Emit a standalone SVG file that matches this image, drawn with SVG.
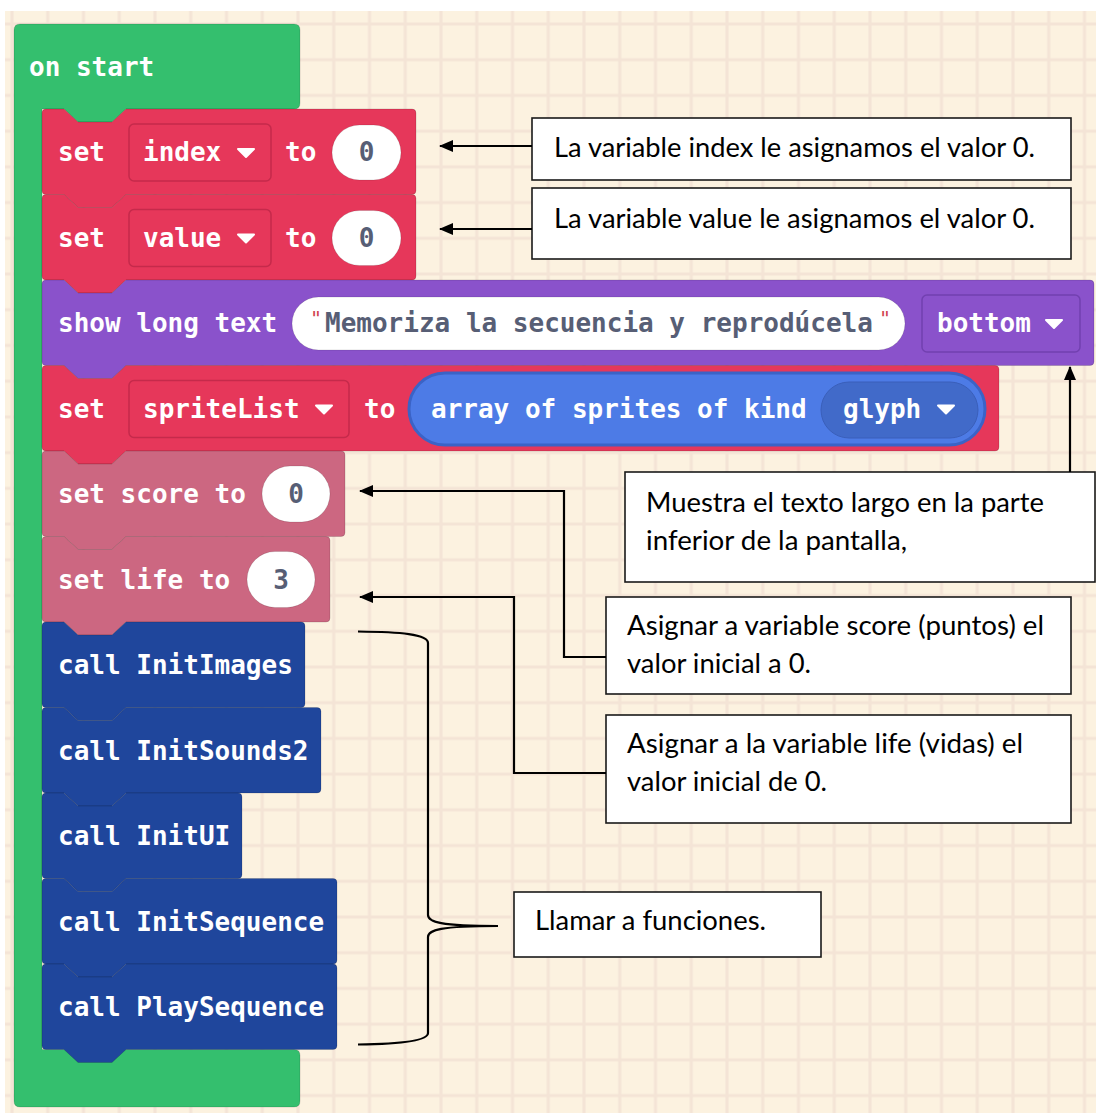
<svg xmlns="http://www.w3.org/2000/svg" width="1096" height="1115" viewBox="0 0 1096 1115">
  <defs>
    <pattern id="grid" x="12" y="24" width="35.75" height="35.72" patternUnits="userSpaceOnUse">
      <rect width="35.75" height="35.72" fill="#fcf2e0"/>
      <path d="M0,0 V35.72 M35.75,0 V35.72 M0,0 H35.75 M0,35.72 H35.75" stroke="#f4e4d6" stroke-width="3"/>
    </pattern>
    <marker id="arrow" markerUnits="userSpaceOnUse" markerWidth="14" markerHeight="12" refX="13" refY="6" orient="auto">
      <path d="M0,0 L14,6 L0,12 Z" fill="#000"/>
    </marker>
    <style>
      .blk { stroke: rgba(0,0,0,0.14); stroke-width: 1; stroke-linejoin: round; }
      .hat { fill: #34bf6e; }
      .var { fill: #e6375a; }
      .game { fill: #8a52cb; }
      .info { fill: #cc6781; }
      .fn { fill: #1f469c; }
      .lbl { font-family: "DejaVu Sans Mono", "Liberation Mono", monospace; font-weight: bold; font-size: 26px; fill: #ffffff; }
      .num { font-family: "DejaVu Sans Mono", "Liberation Mono", monospace; font-weight: bold; font-size: 26px; fill: #575e75; text-anchor: middle; }
      .str { font-family: "DejaVu Sans Mono", "Liberation Mono", monospace; font-weight: bold; font-size: 26px; fill: #575e75; }
      .quote { font-family: "DejaVu Sans Mono", monospace; font-size: 20px; fill: #d0454f; }
      .oval { fill: #ffffff; stroke: rgba(0,0,0,0.12); stroke-width: 1; }
      .dd-var { fill: #e6375a; stroke: #c52a4b; stroke-width: 1.5; }
      .dd-game { fill: #8a52cb; stroke: #7240b0; stroke-width: 1.5; }
      .tri { fill: #ffffff; stroke: #ffffff; stroke-width: 2; stroke-linejoin: round; }
      .box { fill: #ffffff; stroke: #1a1a1a; stroke-width: 1.6; }
      .note { font-family: Lato, "Open Sans", "Liberation Sans", sans-serif; font-size: 27px; fill: #000000; }
      .wire { fill: none; stroke: #000000; stroke-width: 2.2; }
    </style>
  </defs>

  <!-- page and squared workspace -->
  <rect width="1096" height="1115" fill="#ffffff"/>
  <rect x="5" y="11" width="1091" height="1102" fill="url(#grid)"/>

  <!-- on start container -->
  <g id="on-start">
    <path class="blk hat" d="M14,30 Q14,24 20,24 H294 Q300,24 300,30 V103 Q300,109 294,109 H126 L112,122 H78 L64,109 H42 V1049.5 H294 Q300,1049.5 300,1055.5 V1101 Q300,1107 294,1107 H20 Q14,1107 14,1101 Z"/>
    <text class="lbl" x="29" y="76">on start</text>
  </g>

  <g id="set-index">
    <path class="blk var" d="M42,113 Q42,109 46,109 H64 L78,122 H112 L126,109 H412 Q416,109 416,113 V190.5 Q416,194.5 412,194.5 H126 L112,207.5 H78 L64,194.5 H46 Q42,194.5 42,190.5 Z"/>
    <text class="lbl" x="58" y="161">set</text>
    <rect class="dd-var" x="129" y="124" width="142" height="57" rx="5"/>
    <text class="lbl" x="143" y="161">index</text>
    <path class="tri" d="M238,149 H254 L246,157 Z"/>
    <text class="lbl" x="285" y="161">to</text>
    <rect class="oval" x="332" y="125" width="69" height="55" rx="27.5"/>
    <text class="num" x="366.5" y="161">0</text>
  </g>

  <g id="set-value">
    <path class="blk var" d="M42,198.5 Q42,194.5 46,194.5 H64 L78,207.5 H112 L126,194.5 H412 Q416,194.5 416,198.5 V276 Q416,280 412,280 H126 L112,293 H78 L64,280 H46 Q42,280 42,276 Z"/>
    <text class="lbl" x="58" y="246.5">set</text>
    <rect class="dd-var" x="129" y="209.5" width="142" height="57" rx="5"/>
    <text class="lbl" x="143" y="246.5">value</text>
    <path class="tri" d="M238,234.5 H254 L246,242.5 Z"/>
    <text class="lbl" x="285" y="246.5">to</text>
    <rect class="oval" x="332" y="210.5" width="69" height="55" rx="27.5"/>
    <text class="num" x="366.5" y="246.5">0</text>
  </g>

  <g id="show-long-text">
    <path class="blk game" d="M42,284 Q42,280 46,280 H64 L78,293 H112 L126,280 H1090 Q1094,280 1094,284 V361.5 Q1094,365.5 1090,365.5 H126 L112,378.5 H78 L64,365.5 H46 Q42,365.5 42,361.5 Z"/>
    <text class="lbl" x="58" y="332">show long text</text>
    <rect class="oval" x="292" y="297" width="613" height="53" rx="26.5"/>
    <text class="quote" x="310" y="325">"</text>
    <text class="str" x="325" y="332">Memoriza la secuencia y reprodúcela</text>
    <text class="quote" x="879" y="325">"</text>
    <rect class="dd-game" x="922" y="295" width="158" height="57" rx="5"/>
    <text class="lbl" x="937" y="332">bottom</text>
    <path class="tri" d="M1046,320 H1062 L1054,328 Z"/>
  </g>

  <g id="set-spritelist">
    <path class="blk var" d="M42,369.5 Q42,365.5 46,365.5 H64 L78,378.5 H112 L126,365.5 H995 Q999,365.5 999,369.5 V447 Q999,451 995,451 H126 L112,464 H78 L64,451 H46 Q42,451 42,447 Z"/>
    <text class="lbl" x="58" y="417.5">set</text>
    <rect class="dd-var" x="129" y="380.5" width="220" height="57" rx="5"/>
    <text class="lbl" x="143" y="417.5">spriteList</text>
    <path class="tri" d="M316,405.5 H332 L324,413.5 Z"/>
    <text class="lbl" x="364" y="417.5">to</text>
    <rect x="409" y="373" width="576" height="72" rx="36" fill="#4d7be6" stroke="#3b63c6" stroke-width="3"/>
    <text class="lbl" x="431" y="417.5">array of sprites of kind</text>
    <rect x="821" y="382" width="157" height="56" rx="28" fill="#416ac9" stroke="#3a5fba" stroke-width="1"/>
    <text class="lbl" x="843" y="417.5">glyph</text>
    <path class="tri" d="M938,405.5 H954 L946,413.5 Z"/>
  </g>

  <g id="set-score">
    <path class="blk info" d="M42,455 Q42,451 46,451 H64 L78,464 H112 L126,451 H341 Q345,451 345,455 V532.5 Q345,536.5 341,536.5 H126 L112,549.5 H78 L64,536.5 H46 Q42,536.5 42,532.5 Z"/>
    <text class="lbl" x="58" y="503">set score to</text>
    <rect class="oval" x="262" y="466" width="68" height="56" rx="28"/>
    <text class="num" x="296" y="503">0</text>
  </g>

  <g id="set-life">
    <path class="blk info" d="M42,540.5 Q42,536.5 46,536.5 H64 L78,549.5 H112 L126,536.5 H326 Q330,536.5 330,540.5 V618 Q330,622 326,622 H126 L112,635 H78 L64,622 H46 Q42,622 42,618 Z"/>
    <text class="lbl" x="58" y="588.5">set life to</text>
    <rect class="oval" x="247" y="551.5" width="68" height="56" rx="28"/>
    <text class="num" x="281" y="588.5">3</text>
  </g>

  <g id="call-initimages">
    <path class="blk fn" d="M42,626 Q42,622 46,622 H64 L78,635 H112 L126,622 H301 Q305,622 305,626 V703.5 Q305,707.5 301,707.5 H126 L112,720.5 H78 L64,707.5 H46 Q42,707.5 42,703.5 Z"/>
    <text class="lbl" x="58" y="674">call InitImages</text>
  </g>

  <g id="call-initsounds2">
    <path class="blk fn" d="M42,711.5 Q42,707.5 46,707.5 H64 L78,720.5 H112 L126,707.5 H317 Q321,707.5 321,711.5 V789 Q321,793 317,793 H126 L112,806 H78 L64,793 H46 Q42,793 42,789 Z"/>
    <text class="lbl" x="58" y="759.5">call InitSounds2</text>
  </g>

  <g id="call-initui">
    <path class="blk fn" d="M42,797 Q42,793 46,793 H64 L78,806 H112 L126,793 H238 Q242,793 242,797 V874.5 Q242,878.5 238,878.5 H126 L112,891.5 H78 L64,878.5 H46 Q42,878.5 42,874.5 Z"/>
    <text class="lbl" x="58" y="845">call InitUI</text>
  </g>

  <g id="call-initsequence">
    <path class="blk fn" d="M42,882.5 Q42,878.5 46,878.5 H64 L78,891.5 H112 L126,878.5 H333 Q337,878.5 337,882.5 V960 Q337,964 333,964 H126 L112,977 H78 L64,964 H46 Q42,964 42,960 Z"/>
    <text class="lbl" x="58" y="930.5">call InitSequence</text>
  </g>

  <g id="call-playsequence">
    <path class="blk fn" d="M42,968 Q42,964 46,964 H64 L78,977 H112 L126,964 H333 Q337,964 337,968 V1045.5 Q337,1049.5 333,1049.5 H126 L112,1062.5 H78 L64,1049.5 H46 Q42,1049.5 42,1045.5 Z"/>
    <text class="lbl" x="58" y="1016">call PlaySequence</text>
  </g>

  <!-- callout boxes -->
  <g id="note-index">
    <rect class="box" x="532" y="118" width="539" height="62"/>
    <text class="note" x="554" y="157" textLength="481" lengthAdjust="spacingAndGlyphs">La variable index le asignamos el valor 0.</text>
  </g>
  <g id="note-value">
    <rect class="box" x="532" y="188" width="539" height="71"/>
    <text class="note" x="554" y="228" textLength="481" lengthAdjust="spacingAndGlyphs">La variable value le asignamos el valor 0.</text>
  </g>
  <g id="note-text">
    <rect class="box" x="625" y="472" width="470" height="110"/>
    <text class="note" x="646" y="512" textLength="398" lengthAdjust="spacingAndGlyphs">Muestra el texto largo en la parte</text>
    <text class="note" x="646" y="550" textLength="261" lengthAdjust="spacingAndGlyphs">inferior de la pantalla,</text>
  </g>
  <g id="note-score">
    <rect class="box" x="606" y="597" width="465" height="97"/>
    <text class="note" x="627" y="635" textLength="417" lengthAdjust="spacingAndGlyphs">Asignar a variable score (puntos) el</text>
    <text class="note" x="627" y="673" textLength="184" lengthAdjust="spacingAndGlyphs">valor inicial a 0.</text>
  </g>
  <g id="note-life">
    <rect class="box" x="606" y="715" width="465" height="108"/>
    <text class="note" x="627" y="753" textLength="396" lengthAdjust="spacingAndGlyphs">Asignar a la variable life (vidas) el</text>
    <text class="note" x="627" y="791" textLength="200" lengthAdjust="spacingAndGlyphs">valor inicial de 0.</text>
  </g>
  <g id="note-calls">
    <rect class="box" x="514" y="892" width="307" height="65"/>
    <text class="note" x="535" y="930" textLength="231" lengthAdjust="spacingAndGlyphs">Llamar a funciones.</text>
  </g>

  <!-- connectors -->
  <g id="connectors">
    <path class="wire" d="M532,146 H440" marker-end="url(#arrow)"/>
    <path class="wire" d="M532,229 H440" marker-end="url(#arrow)"/>
    <path class="wire" d="M1070,472 V367" marker-end="url(#arrow)"/>
    <path class="wire" d="M606,657 H564 V491 H360" marker-end="url(#arrow)"/>
    <path class="wire" d="M606,773 H514 V597 H360" marker-end="url(#arrow)"/>
    <path class="wire" d="M358,631.5 C400,632 428,634 428,643 V915 C428,922 440,926 498,926 C440,926 428,930 428,937 V1033 C428,1041 400,1044 358,1044.5"/>
  </g>
</svg>
